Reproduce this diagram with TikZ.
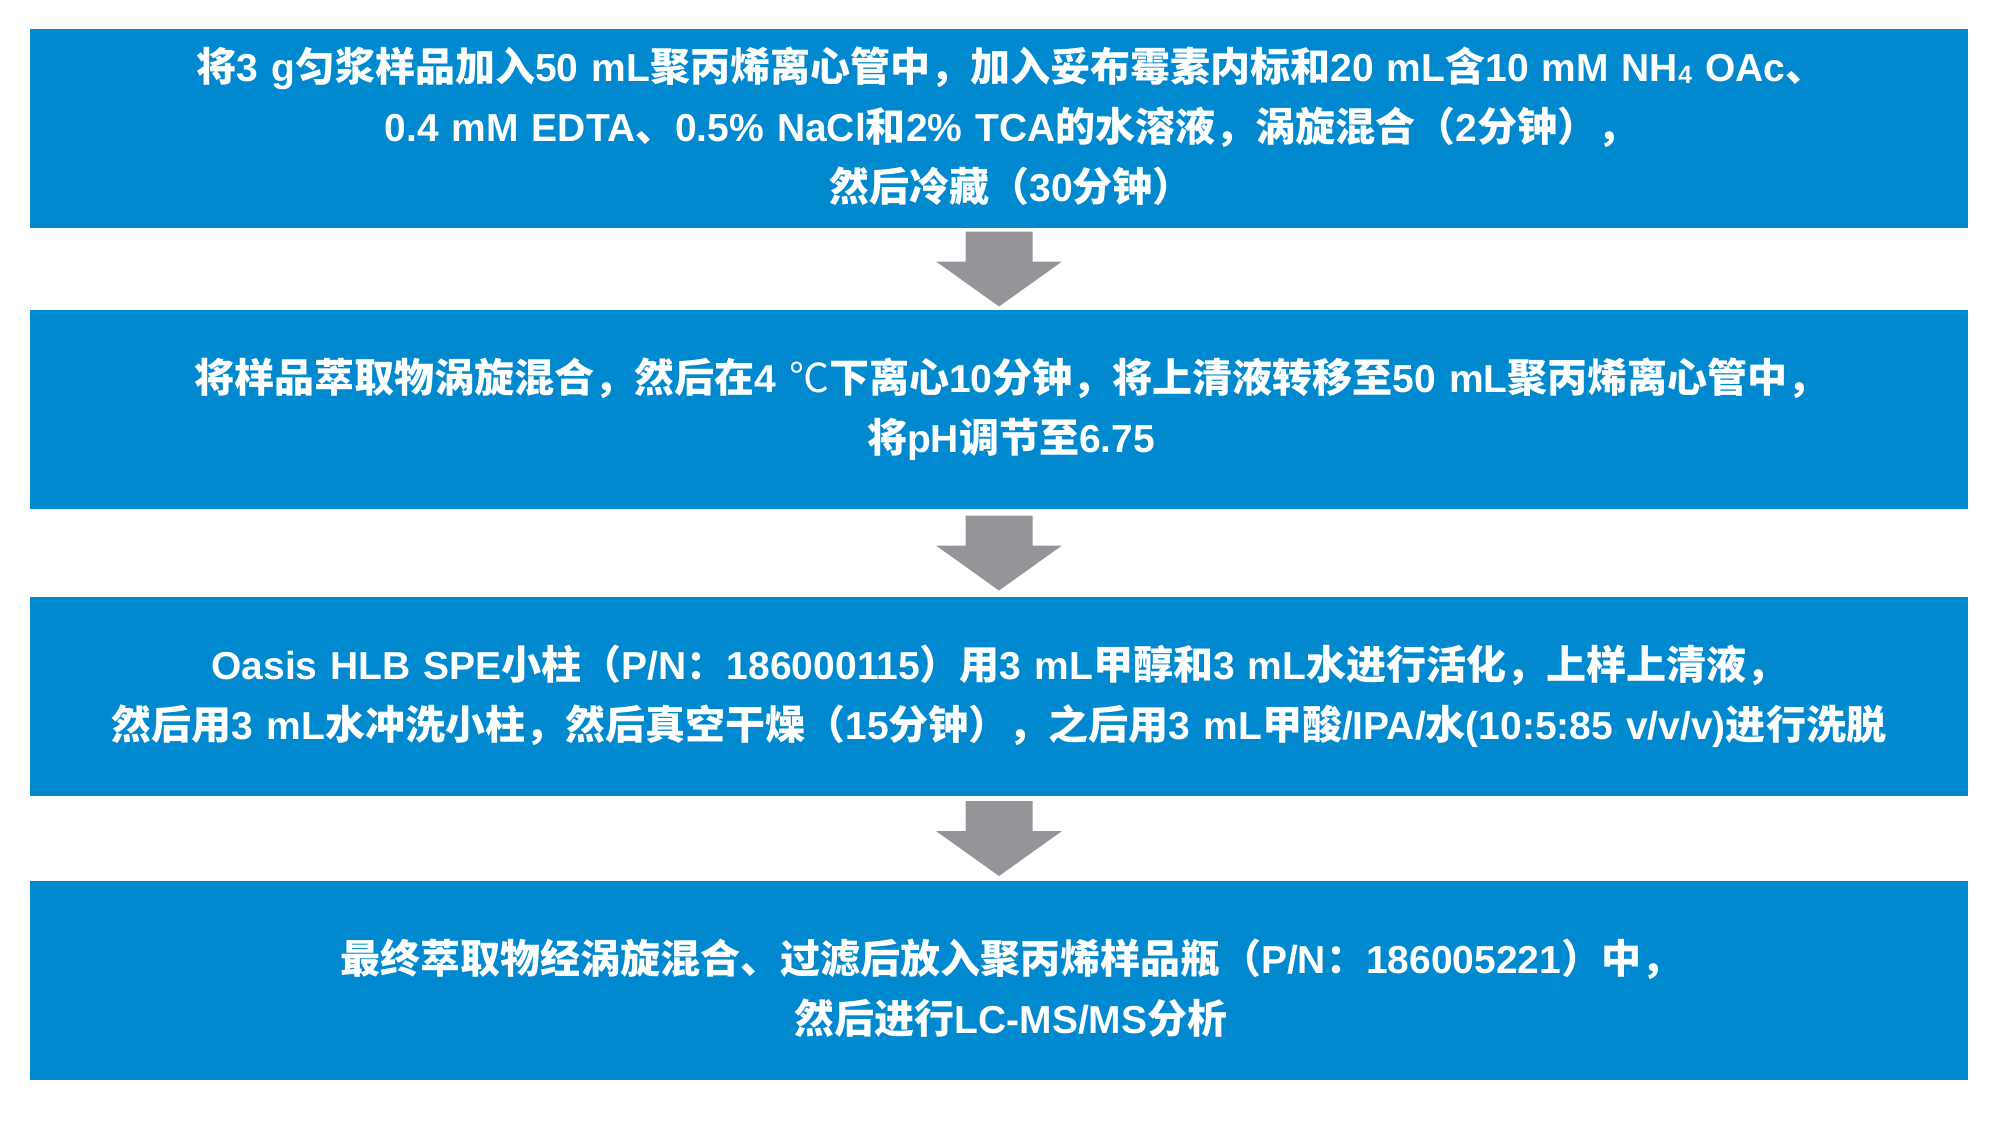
\documentclass[tikz,border=0pt]{standalone}
\usepackage{fontspec}
\setmainfont{Liberation Sans}
\newfontfamily\cjkfont{Noto Sans CJK SC}[Scale=1.026]
\newcommand\cn[1]{{\cjkfont #1}}
\newcommand\subfour{\raisebox{-2pt}{\fontsize{25}{25}\selectfont 4}}
\usetikzlibrary{calc}
\definecolor{boxblue}{RGB}{0,137,207}
\definecolor{arrowgray}{RGB}{147,149,152}
\tikzset{
  stepbox/.style={fill=boxblue, draw=none, inner sep=0pt, minimum width=1938pt,
    minimum height=199pt},
  steptext/.style={inner sep=0pt, text width=1938pt, align=center, text=white,
    font=\fontsize{39}{60}\selectfont\bfseries},
  flowarrow/.pic={\fill[arrowgray] (-33.5,-37.5) -- (33.5,-37.5) -- (33.5,-7.5)
    -- (63,-7.5) -- (0,37.5) -- (-63,-7.5) -- (-33.5,-7.5) -- cycle;}
}
\begin{document}
\begin{tikzpicture}[x=1pt,y=-1pt]
\useasboundingbox (0,0) rectangle (2000,1122);
\node[stepbox] (b1) at (999,128.5) {};
\node[stepbox] (b2) at (999,409.5) {};
\node[stepbox] (b3) at (999,696.5) {};
\node[stepbox] (b4) at (999,980.5) {};
\node[steptext] (t1) at ($(b1.center)+(12,-2)$) {\cn{将}3 g\cn{匀浆样品加入}50 mL\cn{聚丙烯离心管中，加入妥布霉素内标和}20 mL\cn{含}10 mM NH\subfour{} OAc\cn{、}\\
0.4 mM EDTA\cn{、}0.5\% NaCl\cn{和}2\% TCA\cn{的水溶液，涡旋混合（}2\cn{分钟），}\\
\cn{然后冷藏（}30\cn{分钟）}};
\node[steptext] (t2) at ($(b2.center)+(12,0)$) {\cn{将样品萃取物涡旋混合，然后在}4 \cn{\mdseries ℃}\cn{下离心}10\cn{分钟，将上清液转移至}50 mL\cn{聚丙烯离心管中，}\\
\cn{将}pH\cn{调节至}6.75};
\node[steptext] (t3) at (b3.center) {Oasis HLB SPE\cn{小柱（}P/N\cn{：}186000115\cn{）用}3 mL\cn{甲醇和}3 mL\cn{水进行活化，上样上清液，}\\
\cn{然后用}3 mL\cn{水冲洗小柱，然后真空干燥（}15\cn{分钟），之后用}3 mL\cn{甲酸}/IPA/\cn{水}(10:5:85 v/v/v)\cn{进行洗脱}};
\node[steptext] (t4) at ($(b4.center)+(12,8)$) {\cn{最终萃取物经涡旋混合、过滤后放入聚丙烯样品瓶（}P/N\cn{：}186005221\cn{）中，}\\
\cn{然后进行}LC-MS/MS\cn{分析}};
\pic at ($(b1.south)!0.5!(b2.north)$) {flowarrow};
\pic at ($(b2.south)!0.5!(b3.north)$) {flowarrow};
\pic at ($(b3.south)!0.5!(b4.north)$) {flowarrow};
\end{tikzpicture}
\end{document}
